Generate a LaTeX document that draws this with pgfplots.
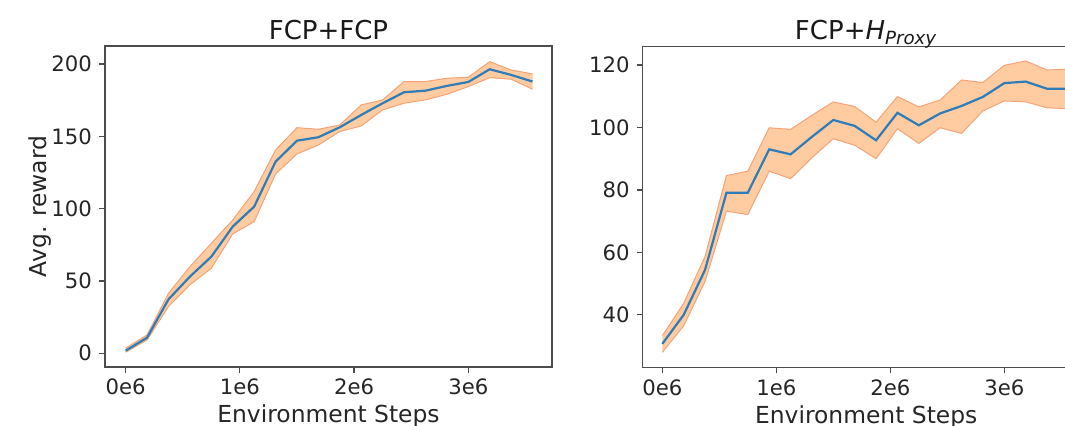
\documentclass[border=0pt]{standalone}
\usepackage{pgfplots}
\pgfplotsset{compat=1.18}
\usepackage{pgfplotstable}
\usepgfplotslibrary{fillbetween}
\usepackage{fontspec}
\setmainfont{DejaVu Sans}
\definecolor{bandfill}{HTML}{FFCBA0}
\definecolor{bandedge}{HTML}{F4A476}
\definecolor{meanline}{HTML}{2F7DB8}

\pgfplotstableread{
x mean lo hi
0.0000 1.8 0.7 3.5
0.1875 10.8 9.2 12.7
0.3750 37.3 32.3 41.5
0.5625 53.0 47.3 59.9
0.7500 66.8 58.8 76.0
0.9375 87.6 82.5 92.2
1.1250 101.4 91.0 111.8
1.3125 132.5 124.0 140.6
1.5000 147.0 137.8 156.0
1.6875 149.4 144.0 154.9
1.8750 156.3 153.3 157.9
2.0625 164.8 157.2 171.7
2.2500 172.9 168.3 175.2
2.4375 180.5 172.9 187.9
2.6250 181.6 175.2 187.9
2.8125 184.9 179.1 190.2
3.0000 187.6 184.4 190.9
3.1875 196.4 190.6 201.7
3.3750 192.5 189.5 195.9
3.5625 187.9 182.6 193.2
}\tableA

\pgfplotstableread{
x mean lo hi
0.0000 30.7 28.0 33.3
0.1875 40.0 36.5 43.7
0.3750 54.4 50.7 58.7
0.5625 79.1 73.2 84.6
0.7500 79.1 72.1 86.0
0.9375 93.0 86.0 99.9
1.1250 91.4 83.6 99.4
1.3125 97.0 90.3 103.9
1.5000 102.4 96.4 108.2
1.6875 100.5 94.3 106.7
1.8750 95.9 90.0 101.7
2.0625 104.7 99.6 109.9
2.2500 100.7 94.9 106.6
2.4375 104.5 99.9 108.8
2.6250 106.9 98.1 115.2
2.8125 109.8 105.3 114.4
3.0000 114.2 108.5 119.9
3.1875 114.7 108.2 121.3
3.3750 112.4 106.3 118.4
3.5625 112.4 106.0 118.7
}\tableB

\pgfplotsset{
  panel/.style={
    scale only axis,
    width=223.5pt,
    height=160.5pt,
    anchor=south west,
    axis line style={black!70, line width=0.6pt},
    tick style={black!70, line width=0.6pt},
    tick align=outside,
    major tick length=3pt,
    xtick pos=bottom,
    ytick pos=left,
    xtick={0,1,2,3},
    xticklabels={0e6,1e6,2e6,3e6},
    /pgf/number format/assume math mode=true,
    ticklabel style={font=\fontsize{10.6}{12}\selectfont, text=black!85},
    xticklabel style={anchor=base, yshift=-11pt},
    label style={font=\fontsize{11.7}{13}\selectfont, text=black!85},
    every axis title shift=0pt,
    title style={font=\fontsize{13}{15}\selectfont, text=black!90,
      at={(axis description cs:0.5,1)}, anchor=base, yshift=3.2pt},
    xlabel={Environment Steps},
    xlabel style={at={(axis description cs:0.5,0)}, anchor=base, yshift=-28pt},
    clip=true,
  },
}

\begin{document}
\begin{tikzpicture}
\begin{axis}[panel, at={(52.5pt,29.5pt)},
  xmin=-0.181, xmax=3.733, ymin=-9.5, ymax=212.5,
  ytick={0,50,100,150,200},
  ylabel={Avg. reward},
  ylabel style={at={(axis description cs:-0.1454,0.5)}, anchor=center},
  title={FCP+FCP}]
\addplot[name path=hiA, draw=bandedge, line width=0.5pt] table[x=x,y=hi]{\tableA};
\addplot[name path=loA, draw=bandedge, line width=0.5pt] table[x=x,y=lo]{\tableA};
\addplot[bandfill] fill between[of=hiA and loA];
\addplot[meanline, line width=1.1pt] table[x=x,y=mean]{\tableA};
\end{axis}

\begin{axis}[panel, at={(321.35pt,29.35pt)},
  xmin=-0.172, xmax=3.749, ymin=23.2, ymax=126,
  ytick={40,60,80,100,120},
  title={FCP+\textit{H}\textsubscript{\textit{Proxy}}}]
\addplot[name path=hiB, draw=bandedge, line width=0.5pt] table[x=x,y=hi]{\tableB};
\addplot[name path=loB, draw=bandedge, line width=0.5pt] table[x=x,y=lo]{\tableB};
\addplot[bandfill] fill between[of=hiB and loB];
\addplot[meanline, line width=1.1pt] table[x=x,y=mean]{\tableB};
\end{axis}
\pgfresetboundingbox
\path[use as bounding box] (0,0) rectangle (532.5pt,213pt);
\end{tikzpicture}
\end{document}
